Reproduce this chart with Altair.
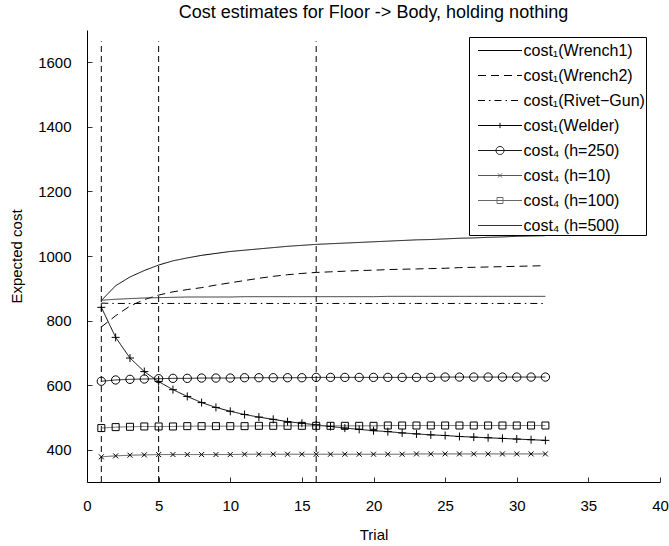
import altair as alt
import pandas as pd

# ---------------- data ----------------
trials = [1, 2, 3, 4, 5, 6, 7, 8, 9, 10, 11, 12, 13, 14, 15, 16,
          17, 18, 19, 20, 21, 22, 23, 24, 25, 26, 27, 28, 29, 30, 31, 32]

wrench1 = [862, 908, 935, 955, 972, 985, 994, 1002, 1008, 1014, 1018, 1022, 1026, 1030, 1033, 1036,
           1038, 1040, 1042, 1044, 1046, 1048, 1050, 1051, 1053, 1055, 1056, 1058, 1059, 1061, 1062, 1063]
wrench2 = [780, 815, 845, 865, 879, 889, 896, 902, 910, 917, 924, 931, 937, 942, 946, 949,
           951, 953, 955, 956, 958, 959, 960, 961, 962, 964, 965, 966, 967, 968, 969, 970]
rivet_gun = [854, 853, 853, 853, 853, 853, 853, 853, 853, 853, 853, 853, 853, 853, 853, 853,
             853, 853, 853, 853, 853, 853, 853, 853, 853, 853, 853, 853, 853, 853, 853, 853]
welder = [841, 748, 684, 642, 611, 586, 565, 546, 531, 519, 509, 501, 494, 487, 482, 477,
          472, 467, 463, 459, 456, 452, 449, 446, 444, 441, 439, 437, 435, 433, 431, 429]
h250 = [612, 616, 618, 619, 620, 621, 621, 622, 622, 622, 623, 623, 623, 623, 623, 624,
        624, 624, 624, 624, 624, 624, 624, 624, 625, 625, 625, 625, 625, 625, 625, 625]
h10 = [378, 381, 383, 384, 385, 385, 385, 385, 385, 385, 386, 386, 386, 386, 386, 386,
       386, 386, 386, 386, 386, 386, 387, 387, 387, 387, 387, 387, 387, 387, 387, 387]
h100 = [467, 470, 471, 472, 472, 472, 473, 473, 473, 473, 473, 474, 474, 474, 474, 474,
        474, 474, 474, 474, 475, 475, 475, 475, 475, 475, 475, 475, 475, 475, 475, 475]
h500 = [863, 866, 868, 870, 871, 872, 873, 873, 873, 873, 874, 874, 874, 874, 874, 874,
        874, 874, 874, 874, 875, 875, 875, 875, 875, 875, 875, 875, 875, 875, 875, 875]

series_names = [
    "cost\u2081(Wrench1)",
    "cost\u2081(Wrench2)",
    "cost\u2081(Rivet\u2212Gun)",
    "cost\u2081(Welder)",
    "cost\u2084 (h=250)",
    "cost\u2084 (h=10)",
    "cost\u2084 (h=100)",
    "cost\u2084 (h=500)",
]
series_values = [wrench1, wrench2, rivet_gun, welder, h250, h10, h100, h500]

# trials at which the dashed vertical markers are drawn
rule_trials = [1, 5, 16]
rule_low = [300, 300, 300]
rule_high = [1665, 1665, 1665]

x_ticks = [0, 5, 10, 15, 20, 25, 30, 35, 40]
y_ticks = [400, 600, 800, 1000, 1200, 1400, 1600]

# ---------------- styles ----------------
line_colors = ["#000000", "#000000", "#000000", "#000000", "#1a1a1a", "#555555", "#666666", "#333333"]
line_dashes = [[1, 0], [8, 5], [7, 4, 1.5, 4], [1, 0], [1, 0], [1, 0], [1, 0], [1, 0]]

L = "M-1.833,0L1.833,0"
legend_paths = [
    L,
    L,
    L,
    L + "M0,-0.22L0,0.22",
    L + "M-0.333,0A0.333,0.333,0,1,1,0.333,0A0.333,0.333,0,1,1,-0.333,0",
    L + "M-0.17,-0.17L0.17,0.17M-0.17,0.17L0.17,-0.17",
    L + "M-0.25,-0.25L0.25,-0.25L0.25,0.25L-0.25,0.25Z",
    L,
]

PLUS = "M-1,0L1,0M0,-1L0,1"
XMARK = "M-1,-1L1,1M-1,1L1,-1"

rows = []
for name, vals in zip(series_names, series_values):
    for t, v in zip(trials, vals):
        rows.append({"trial": t, "cost": v, "series": name})
df = pd.DataFrame(rows)

rules_df = pd.DataFrame({"trial": rule_trials, "lo": rule_low, "hi": rule_high})

FONT = "Liberation Sans"

x_scale = alt.Scale(domain=[0, 40], nice=False, zero=False)
y_scale = alt.Scale(domain=[300, 1700], nice=False, zero=False)

x_axis = alt.Axis(
    title="Trial", values=x_ticks, grid=False, tickSize=alt.ExprRef(expr="-5"),
    labelPadding=21.5, titleY=45.5, labelFlush=False, format="d",
    labelFontSize=15, labelFont=FONT, titleFontSize=15, titleFont=FONT,
    titleFontWeight="normal",
)
y_axis = alt.Axis(
    title="Expected cost", values=y_ticks, grid=False, tickSize=alt.ExprRef(expr="-5"),
    labelPadding=21, titleX=-70.5, titleY=226, titleBaseline="middle", titleAngle=270,
    format="d", labelFontSize=15, labelFont=FONT, titleFontSize=15, titleFont=FONT,
    titleFontWeight="normal",
)

X = alt.X("trial:Q", scale=x_scale, axis=x_axis, title="Trial")
Y = alt.Y("cost:Q", scale=y_scale, axis=y_axis, title="Expected cost")

stroke_scale = alt.Scale(domain=series_names, range=line_colors)
dash_scale = alt.Scale(domain=series_names, range=line_dashes)
shape_scale = alt.Scale(domain=series_names, range=legend_paths)

legend = alt.Legend(
    title=None, orient="none", legendX=382, legendY=7,
    padding=1, rowPadding=4, symbolSize=576, symbolOffset=17.5, labelOffset=11,
    symbolStrokeWidth=1, symbolOpacity=1, symbolFillColor="transparent",
    labelFontSize=16, labelFont=FONT, labelColor="black",
    strokeColor="black", fillColor="white", labelLimit=300,
)

base = alt.Chart(df)

legend_driver = base.mark_point(opacity=0, filled=False).encode(
    x=X,
    y=Y,
    stroke=alt.Stroke("series:N", scale=stroke_scale, legend=legend),
    strokeDash=alt.StrokeDash("series:N", scale=dash_scale, legend=legend),
    shape=alt.Shape("series:N", scale=shape_scale, legend=legend),
).transform_filter(alt.datum.trial == 1)

lines = base.mark_line(strokeWidth=1).encode(
    x=X,
    y=Y,
    stroke=alt.Stroke("series:N", scale=stroke_scale, legend=legend),
    strokeDash=alt.StrokeDash("series:N", scale=dash_scale, legend=legend),
    detail="series:N",
)


def markers(name, shape, size):
    return base.mark_point(shape=shape, size=size, filled=False, stroke="black",
                           strokeWidth=1, opacity=1).encode(
        x=X,
        y=Y,
    ).transform_filter(alt.datum.series == name)


m_welder = markers(series_names[3], PLUS, 64)
m_h250 = markers(series_names[4], "circle", 69)
m_h10 = markers(series_names[5], XMARK, 25)
m_h100 = markers(series_names[6], "square", 49)

rules = alt.Chart(rules_df).mark_rule(color="black", strokeWidth=1, strokeDash=[6, 4]).encode(
    x=alt.X("trial:Q", scale=x_scale, axis=x_axis, title="Trial"),
    y=alt.Y("lo:Q", scale=y_scale, axis=y_axis, title="Expected cost"),
    y2="hi:Q",
)

chart = alt.layer(
    legend_driver, rules, lines, m_welder, m_h250, m_h10, m_h100
).properties(
    width=573,
    height=452,
    background="white",
    title=alt.TitleParams(
        "Cost estimates for Floor -> Body, holding nothing",
        fontSize=18, fontWeight="normal", font=FONT, color="black",
        anchor="middle", offset=8,
    ),
    autosize=alt.AutoSizeParams(type="none"),
    padding={"left": 87, "top": 30, "right": 9, "bottom": 64},
).configure_view(
    strokeWidth=0
).configure_axis(
    domainColor="black", domainWidth=1, tickColor="#333333", tickWidth=1,
    labelFont=FONT, labelFontSize=15, labelColor="black",
    titleFont=FONT, titleFontSize=15, titleFontWeight="normal", titleColor="black",
)

chart.save("out.html", embed_options={"renderer": "svg", "actions": False})
